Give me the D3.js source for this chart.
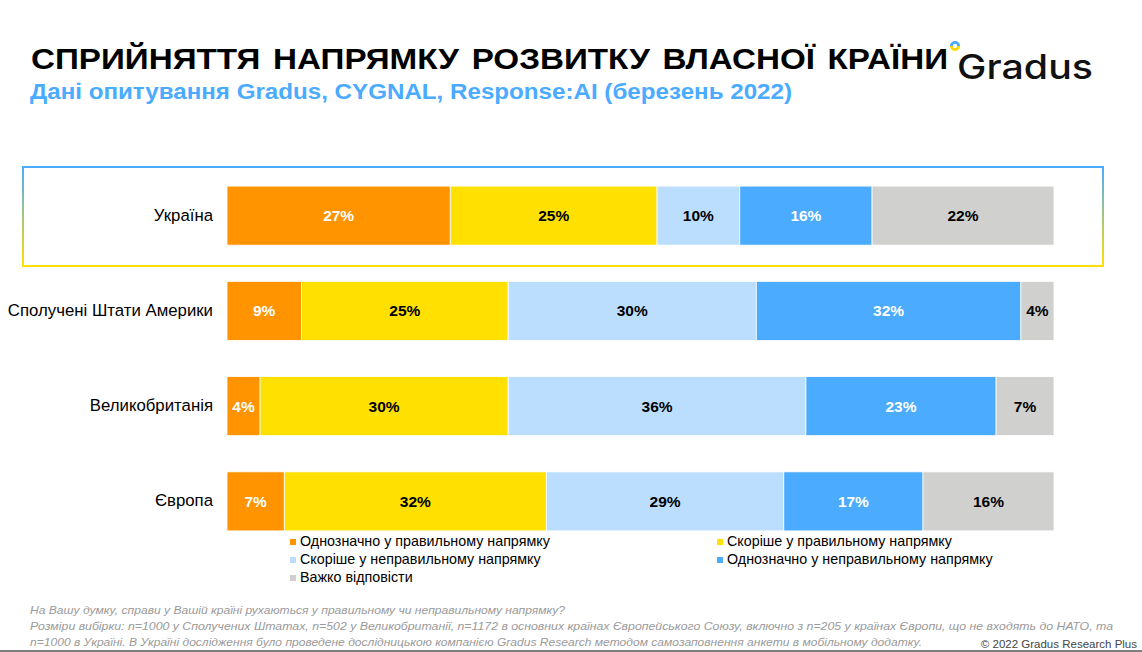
<!DOCTYPE html>
<html><head><meta charset="utf-8">
<script src="https://cdn.jsdelivr.net/npm/d3@7"></script>
<style>
html,body{margin:0;padding:0;background:#fff;}
svg{display:block;}
</style></head>
<body>
<svg id="c" width="1142" height="652"></svg>
<script>
const categories = ["Україна","Сполучені Штати Америки","Великобританія","Європа"];
const seriesNames = ["Однозначно у правильному напрямку","Скоріше у правильному напрямку","Скоріше у неправильному напрямку","Однозначно у неправильному напрямку","Важко відповісти"];
const definitelyRight = [27, 9, 4, 7];
const ratherRight     = [25, 25, 30, 32];
const ratherWrong     = [10, 30, 36, 29];
const definitelyWrong = [16, 32, 23, 17];
const hardToSay       = [22, 4, 7, 16];
const seriesColors = ["#FF9300","#FFE000","#BBDEFF","#4AABFF","#D0D1CF"];
const labelColors  = ["#fff","#000","#000","#fff","#000"];
const seriesValues = [definitelyRight, ratherRight, ratherWrong, definitelyWrong, hardToSay];

const svg = d3.select("#c");
const FONT = "'Liberation Sans',Arial,sans-serif";

// Title
svg.append("text").attr("x",31).attr("y",69).attr("font-family",FONT).attr("font-weight","bold")
  .attr("font-size",29).attr("fill","#000").attr("word-spacing",3)
  .attr("textLength",917).attr("lengthAdjust","spacingAndGlyphs")
  .text("СПРИЙНЯТТЯ НАПРЯМКУ РОЗВИТКУ ВЛАСНОЇ КРАЇНИ");
svg.append("text").attr("x",30).attr("y",99).attr("font-family",FONT).attr("font-weight","bold")
  .attr("font-size",22).attr("fill","#4AABFF").attr("textLength",762).attr("lengthAdjust","spacingAndGlyphs")
  .text("Дані опитування Gradus, CYGNAL, Response:AI (березень 2022)");

// Logo
svg.append("text").attr("x",957).attr("y",79).attr("font-family","Inter,'Open Sans',sans-serif").attr("font-weight",500)
  .attr("font-size",34).attr("fill","#111").attr("textLength",136).attr("lengthAdjust","spacingAndGlyphs").text("Gradus");
const lg = svg.append("g").attr("transform","translate(955,46)");
lg.append("path").attr("d",d3.arc()({innerRadius:2.2,outerRadius:5,startAngle:-Math.PI/2,endAngle:Math.PI/2})).attr("fill","#4AABFF");
lg.append("path").attr("d",d3.arc()({innerRadius:2.2,outerRadius:5,startAngle:Math.PI/2,endAngle:Math.PI*1.5})).attr("fill","#FFD500");

// Highlight box gradient
const defs = svg.append("defs");
const grad = defs.append("linearGradient").attr("id","bg").attr("x1",0).attr("y1",0).attr("x2",0).attr("y2",1);
grad.append("stop").attr("offset","0%").attr("stop-color","#4AABFF");
grad.append("stop").attr("offset","100%").attr("stop-color","#FFE000");
svg.append("rect").attr("x",23).attr("y",167).attr("width",1080).attr("height",99)
  .attr("fill","none").attr("stroke","url(#bg)").attr("stroke-width",2);

// Scales
const x = d3.scaleLinear().domain([0,1]).range([227,1054]);
const y = d3.scaleBand().domain(categories).range([168,549]).paddingInner(0.38).paddingOuter(0.19);

categories.forEach((cat,i)=>{
  const vals = seriesValues.map(s=>s[i]);
  const total = d3.sum(vals);
  let cum = 0;
  const g = svg.append("g");
  vals.forEach((v,j)=>{
    const x0 = x(cum/total), x1 = x((cum+v)/total);
    g.append("rect").attr("x",x0).attr("y",y(cat)).attr("width",x1-x0).attr("height",y.bandwidth())
      .attr("fill",seriesColors[j]).attr("stroke","#fff").attr("stroke-width",0.8);
    g.append("text").attr("x",(x0+x1)/2).attr("y",y(cat)+y.bandwidth()/2+5.5).attr("text-anchor","middle")
      .attr("font-family",FONT).attr("font-weight","bold").attr("font-size",15.5)
      .attr("fill",labelColors[j]).text(v+"%");
    cum += v;
  });
  svg.append("text").attr("x",213).attr("y",y(cat)+y.bandwidth()/2+5).attr("text-anchor","end")
    .attr("font-family",FONT).attr("font-size",16.8).attr("fill","#000").text(cat);
});

// Legend
const legPos = [[290,546],[717,546],[290,564],[717,564],[290,582]];
seriesNames.forEach((n,j)=>{
  const [lx,ly] = legPos[j];
  svg.append("rect").attr("x",lx).attr("y",ly-7).attr("width",6).attr("height",6).attr("fill",seriesColors[j]);
  svg.append("text").attr("x",lx+10).attr("y",ly).attr("font-family",FONT).attr("font-size",14.3).attr("fill","#000").text(n);
});

// Footnotes
const notes = [
  "На Вашу думку, справи у Вашій країні рухаються у правильному чи неправильному напрямку?",
  "Розміри вибірки: n=1000 у Сполучених Штатах, n=502 у Великобританії, n=1172 в основних країнах Європейського Союзу, включно з n=205 у країнах Європи, що не входять до НАТО, та",
  "n=1000 в Україні. В Україні дослідження було проведене дослідницькою компанією Gradus Research методом самозаповнення анкети в мобільному додатку."
];
const noteLen = [535, 1083, 892];
notes.forEach((t,k)=>{
  svg.append("text").attr("x",30).attr("y",614+k*16).attr("font-family",FONT).attr("font-style","italic")
    .attr("font-size",11.8).attr("fill","#9a9a9a").attr("textLength",noteLen[k]).attr("lengthAdjust","spacingAndGlyphs").text(t);
});
svg.append("text").attr("x",1137).attr("y",648).attr("text-anchor","end").attr("font-family",FONT)
  .attr("font-size",11.5).attr("fill","#444").text("© 2022 Gradus Research Plus");
svg.append("rect").attr("x",0).attr("y",650).attr("width",1142).attr("height",2).attr("fill","#808080");
</script>
</body></html>
